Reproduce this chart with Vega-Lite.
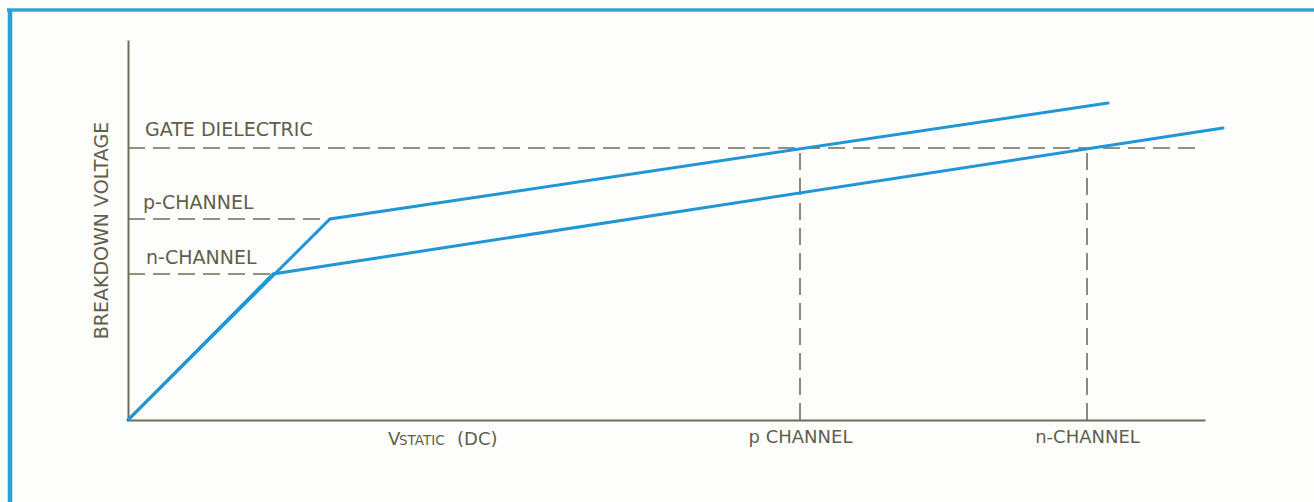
{
  "$schema": "https://vega.github.io/schema/vega-lite/v6.json",
  "width": 1077,
  "height": 380,
  "autosize": {"type": "none"},
  "padding": {"left": 128, "top": 40, "right": 109, "bottom": 82},
  "background": "#fdfdfb",
  "config": {
    "view": {"stroke": null},
    "font": "DejaVu Sans",
    "axis": {"domainColor": "#6e6e58", "domainWidth": 2, "grid": false, "ticks": false}
  },
  "datasets": {
    "curves": [
      {"series": "p-channel", "v": 0, "bv": 0},
      {"series": "p-channel", "v": 202, "bv": 201},
      {"series": "p-channel", "v": 980, "bv": 317},
      {"series": "n-channel", "v": 0, "bv": 0},
      {"series": "n-channel", "v": 145, "bv": 146},
      {"series": "n-channel", "v": 1095, "bv": 292}
    ],
    "hrefs": [
      {"level": "GATE DIELECTRIC", "bv": 272, "v1": 0, "v2": 1072},
      {"level": "p-CHANNEL", "bv": 201, "v1": 0, "v2": 202},
      {"level": "n-CHANNEL", "bv": 146, "v1": 0, "v2": 145}
    ],
    "vrefs": [
      {"level": "p CHANNEL", "v": 672, "bv1": 0, "bv2": 272},
      {"level": "n-CHANNEL", "v": 959, "bv1": 0, "bv2": 270}
    ],
    "levelLabels": [
      {"text": "GATE DIELECTRIC", "v": 17, "bv": 284},
      {"text": "p-CHANNEL", "v": 15, "bv": 211},
      {"text": "n-CHANNEL", "v": 18, "bv": 156}
    ],
    "vBig": [
      {"text": "V", "v": 260, "bv": -25},
      {"text": "(DC)", "v": 329, "bv": -25}
    ],
    "vSmall": [
      {"text": "STATIC", "v": 271, "bv": -25}
    ],
    "frameTop": [{"v1": -121, "v2": 1186, "bv": 410}],
    "frameLeft": [{"v": -118, "bv1": 411, "bv2": -82}]
  },
  "layer": [
    {
      "data": {"name": "frameTop"},
      "mark": {"type": "rule", "color": "#34a3d3", "strokeWidth": 3.5},
      "encoding": {
        "x": {"field": "v1", "type": "quantitative", "scale": {"domain": [0, 1077], "nice": false, "zero": false},
              "axis": {"title": null, "labels": true, "values": [672, 959], "labelExpr": "datum.value == 672 ? 'p CHANNEL' : 'n-CHANNEL'", "labelFontSize": 18, "labelColor": "#5f5f4c", "labelPadding": 8, "labelFont": "DejaVu Sans"}},
        "x2": {"field": "v2"},
        "y": {"field": "bv", "type": "quantitative", "scale": {"domain": [0, 380], "nice": false, "zero": false},
              "axis": {"title": "BREAKDOWN VOLTAGE", "labels": false, "titleFontSize": 19, "titleFontWeight": "normal", "titleColor": "#5f5f4c", "titlePadding": 17, "titleFont": "DejaVu Sans"}}
      }
    },
    {
      "data": {"name": "frameLeft"},
      "mark": {"type": "rule", "color": "#2ea0d0", "strokeWidth": 4.5},
      "encoding": {
        "x": {"field": "v", "type": "quantitative"},
        "y": {"field": "bv1", "type": "quantitative"},
        "y2": {"field": "bv2"}
      }
    },
    {
      "data": {"name": "hrefs"},
      "mark": {"type": "rule", "color": "#6e6e58", "strokeWidth": 1.6, "strokeDash": [17, 8]},
      "encoding": {
        "x": {"field": "v1", "type": "quantitative"},
        "x2": {"field": "v2"},
        "y": {"field": "bv", "type": "quantitative"}
      }
    },
    {
      "data": {"name": "vrefs"},
      "mark": {"type": "rule", "color": "#6e6e58", "strokeWidth": 1.6, "strokeDash": [17, 8]},
      "encoding": {
        "x": {"field": "v", "type": "quantitative"},
        "y": {"field": "bv1", "type": "quantitative"},
        "y2": {"field": "bv2"}
      }
    },
    {
      "data": {"name": "curves"},
      "mark": {"type": "line", "color": "#1f96d6", "strokeWidth": 3, "strokeCap": "round", "strokeJoin": "miter"},
      "encoding": {
        "x": {"field": "v", "type": "quantitative"},
        "y": {"field": "bv", "type": "quantitative"},
        "detail": {"field": "series", "type": "nominal"}
      }
    },
    {
      "data": {"name": "levelLabels"},
      "mark": {"type": "text", "align": "left", "baseline": "alphabetic", "fontSize": 19, "color": "#5f5f4c"},
      "encoding": {
        "x": {"field": "v", "type": "quantitative"},
        "y": {"field": "bv", "type": "quantitative"},
        "text": {"field": "text"}
      }
    },
    {
      "data": {"name": "vBig"},
      "mark": {"type": "text", "align": "left", "baseline": "alphabetic", "fontSize": 18, "color": "#5f5f4c"},
      "encoding": {
        "x": {"field": "v", "type": "quantitative"},
        "y": {"field": "bv", "type": "quantitative"},
        "text": {"field": "text"}
      }
    },
    {
      "data": {"name": "vSmall"},
      "mark": {"type": "text", "align": "left", "baseline": "alphabetic", "fontSize": 13.5, "color": "#5f5f4c"},
      "encoding": {
        "x": {"field": "v", "type": "quantitative"},
        "y": {"field": "bv", "type": "quantitative"},
        "text": {"field": "text"}
      }
    }
  ]
}
